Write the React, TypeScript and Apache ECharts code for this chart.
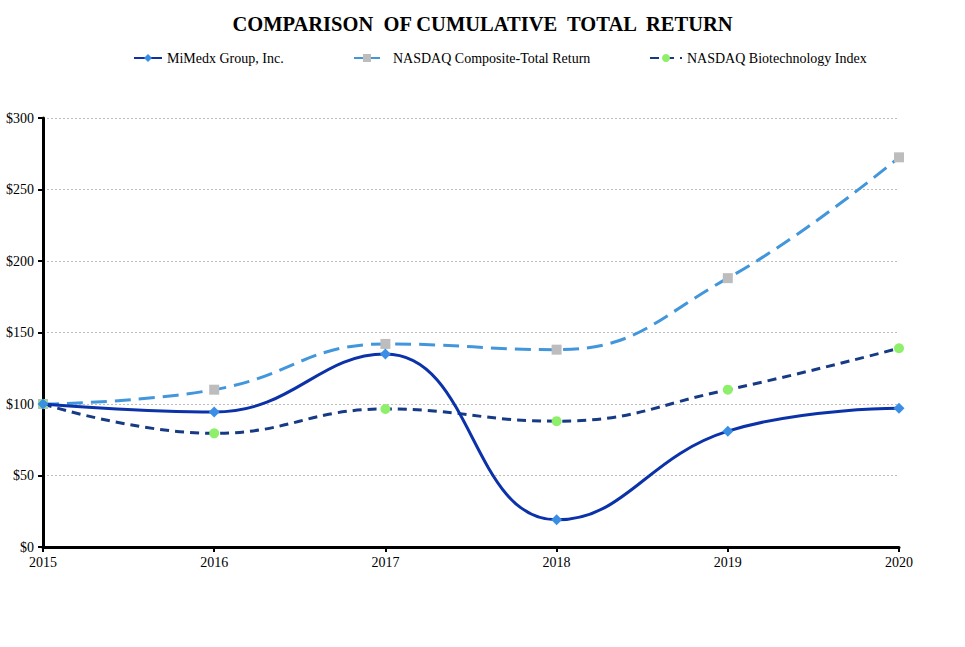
import React, { useEffect, useRef } from "react";
import * as echarts from "echarts";

const years = ["2015", "2016", "2017", "2018", "2019", "2020"];
const mimedx = [100, 94.4, 135, 19, 81, 97];
const nasdaqComposite = [100, 110, 142, 138, 188, 272.5];
const nasdaqBiotech = [100, 79.5, 96.5, 88, 110, 139];
const yTicks = [0, 50, 100, 150, 200, 250, 300];

const FONT = "Liberation Serif";

export default function App() {
  const ref = useRef<HTMLDivElement>(null);
  useEffect(() => {
    document.body.style.margin = "0";
    const chart = echarts.init(ref.current!, null, { renderer: "svg" });
    const txt = { fontFamily: FONT, fontSize: 14, color: "#000" };
    const legendBase = {
      top: 46,
      itemHeight: 10,
      textStyle: txt,
      selectedMode: false,
    };
    chart.setOption({
      animation: false,
      backgroundColor: "#fff",
      title: {
        text: "COMPARISON  OF CUMULATIVE  TOTAL  RETURN",
        left: "center",
        top: 8,
        textStyle: { fontFamily: FONT, fontSize: 20.5, fontWeight: "bold", color: "#000" },
      },
      legend: [
        { ...legendBase, left: 128, itemWidth: 28, itemGap: 2, data: ["MiMedx Group, Inc."] },
        {
          ...legendBase,
          left: 348,
          itemWidth: 26,
          data: [{ name: "NASDAQ Composite-Total Return", lineStyle: { type: "solid" } }],
          textStyle: { ...txt, padding: [0, 0, 0, 8] },
        },
        { ...legendBase, left: 644, itemWidth: 32, data: ["NASDAQ Biotechnology Index"] },
      ],
      grid: { left: 43, right: 66, top: 118, bottom: 100 },
      xAxis: {
        type: "category",
        data: years,
        boundaryGap: false,
        axisLine: { lineStyle: { color: "#000", width: 3 } },
        axisTick: { show: true, length: 5, lineStyle: { color: "#000", width: 2 } },
        axisLabel: { ...txt, margin: 8 },
        splitLine: { show: false },
      },
      yAxis: {
        type: "value",
        min: 0,
        max: 300,
        interval: 50,
        axisLine: { show: true, lineStyle: { color: "#000", width: 3 } },
        axisTick: { show: true, length: 5, lineStyle: { color: "#000", width: 2 } },
        axisLabel: {
          ...txt,
          margin: 9,
          formatter: (v: number) => (yTicks.includes(v) ? "$" + v : ""),
        },
        splitLine: { show: true, lineStyle: { color: "#bdbdbd", type: [2, 2], width: 1 } },
      },
      series: [
        {
          name: "MiMedx Group, Inc.",
          type: "line",
          data: mimedx,
          smooth: 0.45,
          symbol: "diamond",
          symbolSize: 11,
          lineStyle: { color: "#0b32a8", width: 3 },
          itemStyle: { color: "#3a8ee6" },
          z: 3,
        },
        {
          name: "NASDAQ Composite-Total Return",
          type: "line",
          data: nasdaqComposite,
          smooth: 0.45,
          symbol: "rect",
          symbolSize: 10,
          lineStyle: { color: "#4296dc", width: 3, type: [16, 8] },
          itemStyle: { color: "#bdbdbd" },
          z: 2,
        },
        {
          name: "NASDAQ Biotechnology Index",
          type: "line",
          data: nasdaqBiotech,
          smooth: 0.45,
          symbol: "circle",
          symbolSize: 10,
          lineStyle: { color: "#173a85", width: 3, type: [9, 6] },
          itemStyle: { color: "#8ef06a" },
          z: 2,
        },
      ],
    });
    return () => chart.dispose();
  }, []);
  return <div ref={ref} style={{ width: 965, height: 647 }} />;
}
